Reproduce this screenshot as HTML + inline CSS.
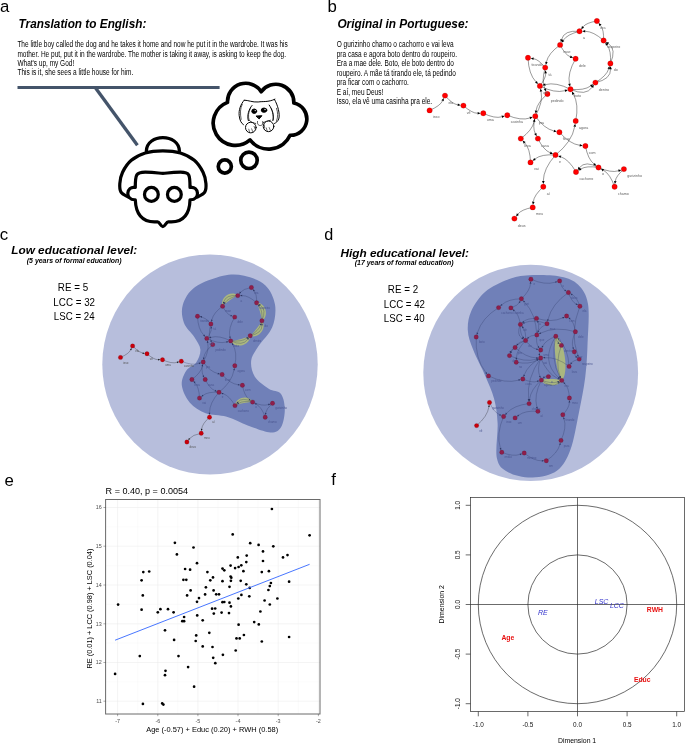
<!DOCTYPE html>
<html><head><meta charset="utf-8"><title>Figure</title>
<style>html,body{margin:0;padding:0;background:#fff}svg{display:block}text{font-family:"Liberation Sans",sans-serif}</style></head><body>
<svg width="685" height="744" viewBox="0 0 685 744">
<rect width="685" height="744" fill="#fff"/>
<ellipse cx="210" cy="364.5" rx="107.7" ry="110" fill="#B7BEDC"/>
<ellipse cx="530.7" cy="372.9" rx="107.4" ry="108.1" fill="#B7BEDC"/>
<text x="-0.1" y="12" font-size="16.8" fill="#000" >a</text>
<text x="18.6" y="27.8" font-size="12.2" fill="#000" font-weight="bold" font-style="italic" textLength="127.8" lengthAdjust="spacingAndGlyphs" >Translation to English:</text>
<text x="17.4" y="47.2" font-size="8.3" fill="#000" textLength="270.4" lengthAdjust="spacingAndGlyphs" >The little boy called the dog and he takes it home and now he put it in the wardrobe. It was his</text>
<text x="17.4" y="56.5" font-size="8.3" fill="#000" textLength="268.6" lengthAdjust="spacingAndGlyphs" >mother. He put, put it in the wardrobe. The mother is taking it away, is asking to keep the dog.</text>
<text x="17.4" y="66.1" font-size="8.3" fill="#000" textLength="56.8" lengthAdjust="spacingAndGlyphs" >What's up, my God!</text>
<text x="17.4" y="75.4" font-size="8.3" fill="#000" textLength="115.9" lengthAdjust="spacingAndGlyphs" >This is it, she sees a little house for him.</text>
<path d="M17.5,87.5H219.6" stroke="#44546A" stroke-width="3" fill="none"/>
<path d="M95.4,87.8L137.4,145.2" stroke="#44546A" stroke-width="3.3" fill="none"/>
<g transform="translate(110,130) scale(0.15328)" fill="none" stroke="#000" stroke-width="21" stroke-linecap="round" stroke-linejoin="round">
<path d="M237,138C240,20 450,20 453,138"/>
<path d="M118.0,437.0C110.3,431.7 81.0,419.5 72.0,405.0C63.0,390.5 62.3,371.5 64.0,350.0C65.7,328.5 69.5,301.3 82.0,276.0C94.5,250.7 114.3,219.0 139.0,198.0C163.7,177.0 195.7,160.3 230.0,150.0C264.3,139.7 306.8,136.0 345.0,136.0C383.2,136.0 424.8,139.7 459.0,150.0C493.2,160.3 525.3,177.0 550.0,198.0C574.7,219.0 594.3,250.7 607.0,276.0C619.7,301.3 624.2,328.5 626.0,350.0C627.8,371.5 627.0,390.5 618.0,405.0C609.0,419.5 579.7,431.7 572.0,437.0"/>
<path d="M165,375C165,290 170,275 230,275C300,275 320,283 345,283C370,283 390,275 460,275C520,275 522,290 522,375C582,362 592,458 522,455C520,540 490,598 400,600L380,600C366,600 358,630 345,630C332,630 324,600 310,600L290,600C200,598 168,540 165,455C95,458 105,362 165,375Z"/>
<circle cx="270" cy="420" r="45"/><circle cx="420" cy="420" r="45"/>
</g>
<g transform="translate(205,75) scale(0.16787)" fill="none" stroke="#000" stroke-width="22" stroke-linecap="round" stroke-linejoin="round">
<path d="M134,163A109,109 0 0 1 335,100A107,107 0 0 1 529,167A97,97 0 0 1 507,359A141,141 0 0 1 268,387A132.5,132.5 0 1 1 134,163Z" fill="#fff"/>
<circle cx="262" cy="508" r="49"/><circle cx="118" cy="545" r="39"/>
</g>
<g transform="translate(232,92) scale(0.08175)" fill="none" stroke="#000" stroke-width="12" stroke-linecap="round" stroke-linejoin="round">
<path d="M150,100C200,100 250,128 320,122C380,112 440,128 525,88"/>
<path d="M150,100C105,150 80,220 88,290C95,350 115,385 140,400"/>
<path d="M125,150C100,200 98,260 112,335" stroke-width="8"/>
<path d="M245,165C205,210 180,290 200,350"/>
<path d="M225,200C200,250 195,300 210,345" stroke-width="7"/>
<path d="M520,92C560,160 590,270 572,330C560,360 540,375 520,385"/>
<path d="M455,160C495,215 515,290 500,350"/>
<path d="M545,200C562,250 564,300 545,355" stroke-width="8"/>
<path d="M480,200C505,250 512,300 505,340" stroke-width="7"/>
<ellipse cx="272" cy="235" rx="30" ry="27" fill="#000"/><ellipse cx="392" cy="222" rx="34" ry="26" fill="#000"/>
<circle cx="284" cy="227" r="8" fill="#fff" stroke="none"/><circle cx="404" cy="214" r="8" fill="#fff" stroke="none"/>
<path d="M298,294L366,290L335,326Z" fill="#000"/>
<path d="M312,360C305,400 330,412 350,410C372,408 382,390 376,360" stroke-width="8"/>
<path d="M215,350C235,370 260,380 290,385M380,375C410,365 440,350 470,345" stroke-width="9"/>
<circle cx="230" cy="435" r="65" fill="#fff"/><circle cx="447" cy="420" r="65" fill="#fff"/>
<path d="M205,455L215,492M240,450L255,488M270,420L285,458M420,440L430,478M455,435L470,470M395,400L400,442" stroke-width="7"/>
</g>
<text x="327.4" y="11.9" font-size="16.8" fill="#000" >b</text>
<text x="337.4" y="27.8" font-size="12.2" fill="#000" font-weight="bold" font-style="italic" textLength="131.1" lengthAdjust="spacingAndGlyphs" >Original in Portuguese:</text>
<text x="336.7" y="47.2" font-size="8.3" fill="#000" textLength="116.9" lengthAdjust="spacingAndGlyphs" >O gurizinho chamo o cachorro e vai leva</text>
<text x="336.7" y="56.6" font-size="8.3" fill="#000" textLength="120.3" lengthAdjust="spacingAndGlyphs" >pra casa e agora boto dentro do roupeiro.</text>
<text x="336.7" y="66.1" font-size="8.3" fill="#000" textLength="117.3" lengthAdjust="spacingAndGlyphs" >Era a mae dele. Boto, ele boto dentro do</text>
<text x="336.7" y="75.6" font-size="8.3" fill="#000" textLength="119.1" lengthAdjust="spacingAndGlyphs" >roupeiro. A mãe tá tirando ele, tá pedindo</text>
<text x="336.7" y="85.1" font-size="8.3" fill="#000" textLength="72.2" lengthAdjust="spacingAndGlyphs" >pra ficar com o cachorro.</text>
<text x="336.7" y="94.6" font-size="8.3" fill="#000" textLength="46.6" lengthAdjust="spacingAndGlyphs" >E aí, meu Deus!</text>
<text x="336.7" y="104" font-size="8.3" fill="#000" textLength="95.5" lengthAdjust="spacingAndGlyphs" >Isso, ela vê uma casinha pra ele.</text>
<g><path d="M598.5,167.5Q610.9,173.1 618.5,170.8" fill="none" stroke="#000" stroke-width="0.4"/><path d="M621.3,169.9L618.8,172.0L618.1,169.5Z" fill="#000"/><path d="M623.9,169.1Q615.9,176.2 615.3,181.1" fill="none" stroke="#000" stroke-width="0.4"/><path d="M614.9,184.1L614.0,181.0L616.6,181.3Z" fill="#000"/><path d="M614.6,186.8Q610.2,174.1 603.5,170.3" fill="none" stroke="#000" stroke-width="0.4"/><path d="M600.9,168.8L604.1,169.2L602.8,171.4Z" fill="#000"/><path d="M598.5,167.5Q586.4,165.5 580.8,169.0" fill="none" stroke="#000" stroke-width="0.4"/><path d="M578.3,170.6L580.1,167.9L581.5,170.1Z" fill="#000"/><path d="M576.0,172.0Q569.0,159.6 560.9,156.8" fill="none" stroke="#000" stroke-width="0.4"/><path d="M558.1,155.9L561.3,155.6L560.5,158.1Z" fill="#000"/><path d="M555.5,155.0Q541.6,153.9 535.0,158.9" fill="none" stroke="#000" stroke-width="0.4"/><path d="M532.6,160.8L534.2,157.9L535.8,160.0Z" fill="#000"/><path d="M530.5,162.4Q530.2,148.7 524.7,142.8" fill="none" stroke="#000" stroke-width="0.4"/><path d="M522.6,140.6L525.6,141.9L523.7,143.7Z" fill="#000"/><path d="M520.8,138.6Q532.3,130.2 534.1,121.8" fill="none" stroke="#000" stroke-width="0.4"/><path d="M534.7,118.8L535.4,122.0L532.8,121.5Z" fill="#000"/><path d="M535.3,116.2Q532.3,127.9 535.3,133.5" fill="none" stroke="#000" stroke-width="0.4"/><path d="M536.7,136.2L534.1,134.1L536.4,132.9Z" fill="#000"/><path d="M537.9,138.6Q543.6,150.1 550.2,152.8" fill="none" stroke="#000" stroke-width="0.4"/><path d="M553.0,154.0L549.7,154.1L550.7,151.6Z" fill="#000"/><path d="M555.5,155.0Q572.1,141.8 574.7,126.6" fill="none" stroke="#000" stroke-width="0.4"/><path d="M575.2,123.7L576.0,126.8L573.4,126.4Z" fill="#000"/><path d="M575.7,121.0Q579.1,104.2 573.4,94.2" fill="none" stroke="#000" stroke-width="0.4"/><path d="M571.9,91.6L574.5,93.6L572.2,94.9Z" fill="#000"/><path d="M570.5,89.3Q584.2,90.7 590.8,85.9" fill="none" stroke="#000" stroke-width="0.4"/><path d="M593.2,84.2L591.5,87.0L590.0,84.9Z" fill="#000"/><path d="M595.4,82.6Q606.5,75.9 608.7,68.9" fill="none" stroke="#000" stroke-width="0.4"/><path d="M609.6,66.1L609.9,69.3L607.5,68.6Z" fill="#000"/><path d="M610.4,63.5Q611.4,50.7 607.1,45.0" fill="none" stroke="#000" stroke-width="0.4"/><path d="M605.2,42.6L608.1,44.2L606.0,45.8Z" fill="#000"/><path d="M603.6,40.5Q604.0,29.5 600.5,25.4" fill="none" stroke="#000" stroke-width="0.4"/><path d="M598.6,23.1L601.5,24.5L599.5,26.2Z" fill="#000"/><path d="M596.9,21.0Q586.2,22.8 583.1,26.8" fill="none" stroke="#000" stroke-width="0.4"/><path d="M581.2,29.2L582.0,26.0L584.1,27.7Z" fill="#000"/><path d="M579.5,31.3Q567.2,34.4 563.3,40.2" fill="none" stroke="#000" stroke-width="0.4"/><path d="M561.6,42.7L562.2,39.5L564.4,40.9Z" fill="#000"/><path d="M560.1,44.9Q565.2,54.8 570.3,56.8" fill="none" stroke="#000" stroke-width="0.4"/><path d="M573.1,57.8L569.8,58.0L570.7,55.5Z" fill="#000"/><path d="M575.6,58.8Q567.3,73.1 569.4,83.7" fill="none" stroke="#000" stroke-width="0.4"/><path d="M570.0,86.7L568.1,84.0L570.7,83.5Z" fill="#000"/><path d="M570.5,89.3Q555.8,81.8 545.4,84.6" fill="none" stroke="#000" stroke-width="0.4"/><path d="M542.5,85.3L545.1,83.3L545.7,85.8Z" fill="#000"/><path d="M539.9,86.0Q554.6,93.5 565.0,90.7" fill="none" stroke="#000" stroke-width="0.4"/><path d="M567.9,90.0L565.3,92.0L564.7,89.5Z" fill="#000"/><path d="M570.5,89.3Q585.8,96.4 592.1,87.3" fill="none" stroke="#000" stroke-width="0.4"/><path d="M593.9,84.8L593.2,88.0L591.1,86.5Z" fill="#000"/><path d="M595.4,82.6Q610.9,79.3 610.6,69.2" fill="none" stroke="#000" stroke-width="0.4"/><path d="M610.5,66.2L611.9,69.2L609.3,69.2Z" fill="#000"/><path d="M610.4,63.5Q616.7,49.1 608.4,43.6" fill="none" stroke="#000" stroke-width="0.4"/><path d="M605.9,42.0L609.1,42.6L607.6,44.7Z" fill="#000"/><path d="M603.6,40.5Q593.3,31.3 585.2,31.3" fill="none" stroke="#000" stroke-width="0.4"/><path d="M582.2,31.3L585.2,30.0L585.2,32.6Z" fill="#000"/><path d="M579.5,31.3Q564.1,30.0 561.6,39.4" fill="none" stroke="#000" stroke-width="0.4"/><path d="M560.8,42.3L560.3,39.1L562.8,39.7Z" fill="#000"/><path d="M560.1,44.9Q548.3,53.4 546.4,62.0" fill="none" stroke="#000" stroke-width="0.4"/><path d="M545.8,65.0L545.2,61.8L547.7,62.3Z" fill="#000"/><path d="M545.2,67.6Q538.5,59.4 533.6,58.7" fill="none" stroke="#000" stroke-width="0.4"/><path d="M530.7,58.2L533.8,57.4L533.4,60.0Z" fill="#000"/><path d="M528.0,57.8Q528.6,74.2 536.0,81.9" fill="none" stroke="#000" stroke-width="0.4"/><path d="M538.0,84.0L535.0,82.8L536.9,81.0Z" fill="#000"/><path d="M539.9,86.0Q546.0,77.8 545.7,73.3" fill="none" stroke="#000" stroke-width="0.4"/><path d="M545.4,70.3L547.0,73.2L544.4,73.4Z" fill="#000"/><path d="M545.2,67.6Q541.3,81.2 544.9,88.9" fill="none" stroke="#000" stroke-width="0.4"/><path d="M546.2,91.6L543.8,89.4L546.1,88.3Z" fill="#000"/><path d="M547.4,94.0Q537.1,102.8 536.1,110.6" fill="none" stroke="#000" stroke-width="0.4"/><path d="M535.7,113.5L534.8,110.4L537.4,110.7Z" fill="#000"/><path d="M535.3,116.2Q544.3,128.8 553.8,130.9" fill="none" stroke="#000" stroke-width="0.4"/><path d="M556.8,131.6L553.6,132.2L554.1,129.7Z" fill="#000"/><path d="M559.4,132.2Q569.8,144.0 579.7,145.3" fill="none" stroke="#000" stroke-width="0.4"/><path d="M582.7,145.7L579.6,146.6L579.9,144.0Z" fill="#000"/><path d="M585.4,146.0Q587.9,159.2 594.0,164.0" fill="none" stroke="#000" stroke-width="0.4"/><path d="M596.4,165.8L593.2,165.0L594.8,163.0Z" fill="#000"/><path d="M598.5,167.5Q585.4,160.3 579.6,167.5" fill="none" stroke="#000" stroke-width="0.4"/><path d="M577.7,169.9L578.5,166.7L580.6,168.4Z" fill="#000"/><path d="M555.5,155.0Q543.4,168.6 543.3,181.1" fill="none" stroke="#000" stroke-width="0.4"/><path d="M543.3,184.1L542.0,181.1L544.6,181.1Z" fill="#000"/><path d="M543.3,186.8Q534.1,195.1 533.3,201.7" fill="none" stroke="#000" stroke-width="0.4"/><path d="M533.0,204.7L532.0,201.6L534.6,201.9Z" fill="#000"/><path d="M532.7,207.4Q521.4,209.5 517.9,214.1" fill="none" stroke="#000" stroke-width="0.4"/><path d="M516.1,216.5L516.9,213.3L518.9,214.9Z" fill="#000"/><path d="M429.6,110.4Q440.1,105.9 442.6,100.8" fill="none" stroke="#000" stroke-width="0.4"/><path d="M443.8,98.0L443.7,101.3L441.4,100.2Z" fill="#000"/><path d="M445.0,95.6Q452.3,104.1 457.8,104.8" fill="none" stroke="#000" stroke-width="0.4"/><path d="M460.7,105.2L457.6,106.1L457.9,103.5Z" fill="#000"/><path d="M463.4,105.6Q471.9,113.2 477.6,113.3" fill="none" stroke="#000" stroke-width="0.4"/><path d="M480.6,113.3L477.6,114.6L477.6,112.0Z" fill="#000"/><path d="M483.3,113.3Q494.9,118.8 501.8,116.8" fill="none" stroke="#000" stroke-width="0.4"/><path d="M504.7,116.0L502.2,118.0L501.5,115.6Z" fill="#000"/><path d="M507.3,115.2Q521.1,121.0 529.9,118.0" fill="none" stroke="#000" stroke-width="0.4"/><path d="M532.7,117.1L530.3,119.3L529.5,116.8Z" fill="#000"/><path d="M535.3,116.2Q543.3,102.0 541.1,91.6" fill="none" stroke="#000" stroke-width="0.4"/><path d="M540.5,88.6L542.4,91.3L539.8,91.8Z" fill="#000"/><circle cx="596.9" cy="21.0" r="2.7" fill="#F00" stroke="#400" stroke-width="0.15"/><circle cx="579.5" cy="31.3" r="2.7" fill="#F00" stroke="#400" stroke-width="0.15"/><circle cx="603.6" cy="40.5" r="2.7" fill="#F00" stroke="#400" stroke-width="0.15"/><circle cx="560.1" cy="44.9" r="2.7" fill="#F00" stroke="#400" stroke-width="0.15"/><circle cx="575.6" cy="58.8" r="2.7" fill="#F00" stroke="#400" stroke-width="0.15"/><circle cx="610.4" cy="63.5" r="2.7" fill="#F00" stroke="#400" stroke-width="0.15"/><circle cx="528" cy="57.8" r="2.7" fill="#F00" stroke="#400" stroke-width="0.15"/><circle cx="545.2" cy="67.6" r="2.7" fill="#F00" stroke="#400" stroke-width="0.15"/><circle cx="595.4" cy="82.6" r="2.7" fill="#F00" stroke="#400" stroke-width="0.15"/><circle cx="539.9" cy="86" r="2.7" fill="#F00" stroke="#400" stroke-width="0.15"/><circle cx="570.5" cy="89.3" r="2.7" fill="#F00" stroke="#400" stroke-width="0.15"/><circle cx="547.4" cy="94" r="2.7" fill="#F00" stroke="#400" stroke-width="0.15"/><circle cx="445" cy="95.6" r="2.7" fill="#F00" stroke="#400" stroke-width="0.15"/><circle cx="429.6" cy="110.4" r="2.7" fill="#F00" stroke="#400" stroke-width="0.15"/><circle cx="463.4" cy="105.6" r="2.7" fill="#F00" stroke="#400" stroke-width="0.15"/><circle cx="483.3" cy="113.3" r="2.7" fill="#F00" stroke="#400" stroke-width="0.15"/><circle cx="507.3" cy="115.2" r="2.7" fill="#F00" stroke="#400" stroke-width="0.15"/><circle cx="535.3" cy="116.2" r="2.7" fill="#F00" stroke="#400" stroke-width="0.15"/><circle cx="575.7" cy="121" r="2.7" fill="#F00" stroke="#400" stroke-width="0.15"/><circle cx="559.4" cy="132.2" r="2.7" fill="#F00" stroke="#400" stroke-width="0.15"/><circle cx="520.8" cy="138.6" r="2.7" fill="#F00" stroke="#400" stroke-width="0.15"/><circle cx="537.9" cy="138.6" r="2.7" fill="#F00" stroke="#400" stroke-width="0.15"/><circle cx="585.4" cy="146" r="2.7" fill="#F00" stroke="#400" stroke-width="0.15"/><circle cx="555.5" cy="155" r="2.7" fill="#F00" stroke="#400" stroke-width="0.15"/><circle cx="530.5" cy="162.4" r="2.7" fill="#F00" stroke="#400" stroke-width="0.15"/><circle cx="598.5" cy="167.5" r="2.7" fill="#F00" stroke="#400" stroke-width="0.15"/><circle cx="576" cy="172" r="2.7" fill="#F00" stroke="#400" stroke-width="0.15"/><circle cx="623.9" cy="169.1" r="2.7" fill="#F00" stroke="#400" stroke-width="0.15"/><circle cx="614.6" cy="186.8" r="2.7" fill="#F00" stroke="#400" stroke-width="0.15"/><circle cx="543.3" cy="186.8" r="2.7" fill="#F00" stroke="#400" stroke-width="0.15"/><circle cx="532.7" cy="207.4" r="2.7" fill="#F00" stroke="#400" stroke-width="0.15"/><circle cx="514.4" cy="218.6" r="2.7" fill="#F00" stroke="#400" stroke-width="0.15"/><text x="600.3" y="28.9" font-size="3.6" fill="#606060">era</text><text x="582.9" y="39.2" font-size="3.6" fill="#606060">a</text><text x="607.0" y="48.4" font-size="3.6" fill="#606060">roupeiro</text><text x="563.5" y="52.8" font-size="3.6" fill="#606060">mae</text><text x="579.0" y="66.7" font-size="3.6" fill="#606060">dele</text><text x="613.8" y="71.4" font-size="3.6" fill="#606060">do</text><text x="531.4" y="65.7" font-size="3.6" fill="#606060">tirando</text><text x="548.6" y="75.5" font-size="3.6" fill="#606060">tá</text><text x="598.8" y="90.5" font-size="3.6" fill="#606060">dentro</text><text x="543.3" y="93.9" font-size="3.6" fill="#606060">ele</text><text x="573.9" y="97.2" font-size="3.6" fill="#606060">boto</text><text x="550.8" y="101.9" font-size="3.6" fill="#606060">pedindo</text><text x="448.4" y="103.5" font-size="3.6" fill="#606060">ela</text><text x="433.0" y="118.3" font-size="3.6" fill="#606060">isso</text><text x="466.8" y="113.5" font-size="3.6" fill="#606060">vê</text><text x="486.7" y="121.2" font-size="3.6" fill="#606060">uma</text><text x="510.7" y="123.1" font-size="3.6" fill="#606060">casinha</text><text x="538.7" y="124.1" font-size="3.6" fill="#606060">pra</text><text x="579.1" y="128.9" font-size="3.6" fill="#606060">agora</text><text x="562.8" y="140.1" font-size="3.6" fill="#606060">ficar</text><text x="524.2" y="146.5" font-size="3.6" fill="#606060">leva</text><text x="541.3" y="146.5" font-size="3.6" fill="#606060">casa</text><text x="588.8" y="153.9" font-size="3.6" fill="#606060">com</text><text x="558.9" y="162.9" font-size="3.6" fill="#606060">e</text><text x="533.9" y="170.3" font-size="3.6" fill="#606060">vai</text><text x="601.9" y="175.4" font-size="3.6" fill="#606060">o</text><text x="579.4" y="179.9" font-size="3.6" fill="#606060">cachorro</text><text x="627.3" y="177.0" font-size="3.6" fill="#606060">gurizinho</text><text x="618.0" y="194.7" font-size="3.6" fill="#606060">chamo</text><text x="546.7" y="194.7" font-size="3.6" fill="#606060">aí</text><text x="536.1" y="215.3" font-size="3.6" fill="#606060">meu</text><text x="517.8" y="226.5" font-size="3.6" fill="#606060">deus</text></g>
<text x="-0.3" y="240.2" font-size="16.8" fill="#000" >c</text>
<text x="11.2" y="254.3" font-size="11.2" fill="#000" font-weight="bold" font-style="italic" textLength="126.1" lengthAdjust="spacingAndGlyphs" >Low educational level:</text>
<text x="26.8" y="262.7" font-size="6.5" fill="#000" font-weight="bold" font-style="italic" textLength="94.8" lengthAdjust="spacingAndGlyphs" >(5 years of formal education)</text>
<text x="73" y="290.8" font-size="11.6" fill="#000" text-anchor="middle" textLength="30.3" lengthAdjust="spacingAndGlyphs" >RE = 5</text>
<text x="74.2" y="305.7" font-size="11.6" fill="#000" text-anchor="middle" textLength="41.7" lengthAdjust="spacingAndGlyphs" >LCC = 32</text>
<text x="74.2" y="320.1" font-size="11.6" fill="#000" text-anchor="middle" textLength="40.7" lengthAdjust="spacingAndGlyphs" >LSC = 24</text>
<path d="M223.1,275.8C231.3,274.0 237.2,274.3 244.2,275.8C251.2,277.4 260.1,280.5 265.2,285.3C270.3,290.1 273.8,297.6 275.0,304.6C276.2,311.6 275.0,320.3 272.2,327.3C269.4,334.3 261.7,341.1 258.2,346.6C254.7,352.2 251.8,355.7 251.2,360.6C250.6,365.6 251.8,371.7 254.7,376.4C257.6,381.1 264.3,385.7 268.7,388.7C273.1,391.6 278.3,390.4 281.0,393.9C283.6,397.4 284.8,404.1 284.8,409.7C284.8,415.2 283.4,423.4 281.0,427.2C278.6,431.0 276.0,432.7 270.4,432.5C264.9,432.2 255.0,428.1 247.7,425.4C240.4,422.8 233.7,418.7 226.7,416.7C219.6,414.6 211.8,415.5 205.6,413.2C199.5,410.8 193.8,407.3 189.9,402.7C185.9,398.0 182.4,390.5 181.8,385.2C181.2,379.8 184.0,374.2 186.4,370.4C188.8,366.6 193.8,365.9 196.2,362.4C198.5,358.9 200.7,353.7 200.4,349.4C200.0,345.2 196.8,341.2 194.1,336.8C191.3,332.4 185.8,328.2 183.9,322.8C182.0,317.4 181.0,310.5 182.9,304.6C184.7,298.6 188.4,291.8 195.1,287.0C201.8,282.3 215.0,277.7 223.1,275.8Z" fill="#7080B8"/>
<path d="M237.8,295.6C235.4,296.1 223.9,304.1 222.6,306.2C219.5,297.8 231.0,289.8 237.8,295.6Z" fill="#AAB77F"/>
<path d="M261.9,320.8C262.2,318.4 258.2,304.7 256.6,302.8C265.6,302.5 269.7,316.2 261.9,320.8Z" fill="#AAB77F"/>
<path d="M250.2,335.7C252.4,334.5 261.3,323.2 261.9,320.8C267.4,328.0 258.6,339.4 250.2,335.7Z" fill="#AAB77F"/>
<path d="M230.7,340.9C233.3,341.3 248.1,337.4 250.2,335.7C250.3,345.4 235.5,349.4 230.7,340.9Z" fill="#AAB77F"/>
<path d="M252.6,402.1C250.3,401.6 236.9,404.2 235.0,405.6C235.5,397.0 248.9,394.3 252.6,402.1Z" fill="#AAB77F"/>
<g><path d="M252.6,402.1Q262.3,406.5 268.3,404.6" fill="none" stroke="#2A3360" stroke-width="0.3"/><path d="M270.4,404.0L268.6,405.5L268.0,403.8Z" fill="#2A3360"/><path d="M272.5,403.3Q266.2,408.9 265.7,412.8" fill="none" stroke="#2A3360" stroke-width="0.3"/><path d="M265.5,415.0L264.8,412.7L266.6,412.9Z" fill="#2A3360"/><path d="M265.2,417.2Q261.8,407.3 256.4,404.3" fill="none" stroke="#2A3360" stroke-width="0.3"/><path d="M254.5,403.2L256.9,403.5L256.0,405.0Z" fill="#2A3360"/><path d="M252.6,402.1Q243.1,400.5 238.7,403.3" fill="none" stroke="#2A3360" stroke-width="0.3"/><path d="M236.9,404.4L238.3,402.5L239.2,404.0Z" fill="#2A3360"/><path d="M235.0,405.6Q229.5,395.9 223.2,393.7" fill="none" stroke="#2A3360" stroke-width="0.3"/><path d="M221.1,393.0L223.5,392.9L222.9,394.6Z" fill="#2A3360"/><path d="M219.0,392.3Q208.1,391.5 203.0,395.4" fill="none" stroke="#2A3360" stroke-width="0.3"/><path d="M201.2,396.8L202.5,394.7L203.5,396.1Z" fill="#2A3360"/><path d="M199.5,398.1Q199.2,387.4 194.9,382.7" fill="none" stroke="#2A3360" stroke-width="0.3"/><path d="M193.4,381.1L195.6,382.1L194.2,383.3Z" fill="#2A3360"/><path d="M191.9,379.5Q200.9,372.9 202.3,366.3" fill="none" stroke="#2A3360" stroke-width="0.3"/><path d="M202.7,364.2L203.2,366.5L201.4,366.1Z" fill="#2A3360"/><path d="M203.2,362.0Q200.9,371.1 203.2,375.6" fill="none" stroke="#2A3360" stroke-width="0.3"/><path d="M204.2,377.5L202.4,376.0L204.0,375.2Z" fill="#2A3360"/><path d="M205.2,379.5Q209.7,388.5 214.9,390.6" fill="none" stroke="#2A3360" stroke-width="0.3"/><path d="M217.0,391.5L214.6,391.5L215.3,389.8Z" fill="#2A3360"/><path d="M219.0,392.3Q232.0,382.0 234.0,370.0" fill="none" stroke="#2A3360" stroke-width="0.3"/><path d="M234.4,367.9L234.9,370.2L233.2,369.9Z" fill="#2A3360"/><path d="M234.8,365.7Q237.5,352.5 232.9,344.7" fill="none" stroke="#2A3360" stroke-width="0.3"/><path d="M231.8,342.8L233.7,344.3L232.1,345.2Z" fill="#2A3360"/><path d="M230.7,340.9Q241.4,342.0 246.6,338.3" fill="none" stroke="#2A3360" stroke-width="0.3"/><path d="M248.4,337.0L247.2,339.0L246.1,337.5Z" fill="#2A3360"/><path d="M250.2,335.7Q258.9,330.5 260.6,325.0" fill="none" stroke="#2A3360" stroke-width="0.3"/><path d="M261.2,322.9L261.4,325.3L259.7,324.7Z" fill="#2A3360"/><path d="M261.9,320.8Q262.7,310.8 259.3,306.3" fill="none" stroke="#2A3360" stroke-width="0.3"/><path d="M257.9,304.6L260.0,305.8L258.5,306.8Z" fill="#2A3360"/><path d="M256.6,302.8Q256.9,294.2 254.2,290.9" fill="none" stroke="#2A3360" stroke-width="0.3"/><path d="M252.8,289.2L254.9,290.3L253.5,291.5Z" fill="#2A3360"/><path d="M251.4,287.5Q243.1,289.0 240.5,292.2" fill="none" stroke="#2A3360" stroke-width="0.3"/><path d="M239.2,293.9L239.8,291.6L241.2,292.7Z" fill="#2A3360"/><path d="M237.8,295.6Q228.2,298.0 225.1,302.6" fill="none" stroke="#2A3360" stroke-width="0.3"/><path d="M223.8,304.4L224.3,302.1L225.8,303.1Z" fill="#2A3360"/><path d="M222.6,306.2Q226.6,313.9 230.6,315.5" fill="none" stroke="#2A3360" stroke-width="0.3"/><path d="M232.6,316.3L230.3,316.3L230.9,314.7Z" fill="#2A3360"/><path d="M234.7,317.1Q228.2,328.2 229.8,336.6" fill="none" stroke="#2A3360" stroke-width="0.3"/><path d="M230.3,338.7L229.0,336.8L230.7,336.4Z" fill="#2A3360"/><path d="M230.7,340.9Q219.2,335.1 211.1,337.3" fill="none" stroke="#2A3360" stroke-width="0.3"/><path d="M208.9,337.8L210.8,336.4L211.3,338.1Z" fill="#2A3360"/><path d="M206.8,338.4Q218.3,344.2 226.4,342.0" fill="none" stroke="#2A3360" stroke-width="0.3"/><path d="M228.6,341.5L226.7,342.9L226.2,341.2Z" fill="#2A3360"/><path d="M230.7,340.9Q242.6,346.5 247.7,339.3" fill="none" stroke="#2A3360" stroke-width="0.3"/><path d="M248.9,337.5L248.4,339.8L246.9,338.8Z" fill="#2A3360"/><path d="M250.2,335.7Q262.3,333.2 262.0,325.2" fill="none" stroke="#2A3360" stroke-width="0.3"/><path d="M262.0,323.0L262.9,325.2L261.1,325.2Z" fill="#2A3360"/><path d="M261.9,320.8Q266.8,309.6 260.3,305.2" fill="none" stroke="#2A3360" stroke-width="0.3"/><path d="M258.4,304.0L260.8,304.5L259.8,306.0Z" fill="#2A3360"/><path d="M256.6,302.8Q248.6,295.6 242.2,295.6" fill="none" stroke="#2A3360" stroke-width="0.3"/><path d="M240.0,295.6L242.2,294.7L242.2,296.5Z" fill="#2A3360"/><path d="M237.8,295.6Q225.7,294.5 223.7,302.0" fill="none" stroke="#2A3360" stroke-width="0.3"/><path d="M223.2,304.1L222.9,301.7L224.6,302.2Z" fill="#2A3360"/><path d="M222.6,306.2Q213.4,312.9 211.9,319.7" fill="none" stroke="#2A3360" stroke-width="0.3"/><path d="M211.4,321.9L211.0,319.5L212.7,319.9Z" fill="#2A3360"/><path d="M210.9,324.0Q205.7,317.6 201.8,317.0" fill="none" stroke="#2A3360" stroke-width="0.3"/><path d="M199.7,316.6L202.0,316.1L201.7,317.9Z" fill="#2A3360"/><path d="M197.5,316.3Q198.0,329.1 203.8,335.2" fill="none" stroke="#2A3360" stroke-width="0.3"/><path d="M205.3,336.8L203.1,335.8L204.4,334.6Z" fill="#2A3360"/><path d="M206.8,338.4Q211.6,332.0 211.3,328.4" fill="none" stroke="#2A3360" stroke-width="0.3"/><path d="M211.1,326.2L212.2,328.3L210.4,328.5Z" fill="#2A3360"/><path d="M210.9,324.0Q207.9,334.6 210.8,340.6" fill="none" stroke="#2A3360" stroke-width="0.3"/><path d="M211.7,342.6L210.0,341.0L211.6,340.2Z" fill="#2A3360"/><path d="M212.7,344.6Q204.6,351.5 203.8,357.6" fill="none" stroke="#2A3360" stroke-width="0.3"/><path d="M203.5,359.8L202.9,357.5L204.7,357.8Z" fill="#2A3360"/><path d="M203.2,362.0Q210.3,371.8 217.8,373.5" fill="none" stroke="#2A3360" stroke-width="0.3"/><path d="M220.0,374.0L217.6,374.4L218.0,372.7Z" fill="#2A3360"/><path d="M222.1,374.5Q230.2,383.8 238.0,384.7" fill="none" stroke="#2A3360" stroke-width="0.3"/><path d="M240.2,385.0L237.9,385.6L238.1,383.9Z" fill="#2A3360"/><path d="M242.4,385.3Q244.3,395.6 249.1,399.4" fill="none" stroke="#2A3360" stroke-width="0.3"/><path d="M250.9,400.7L248.6,400.1L249.7,398.7Z" fill="#2A3360"/><path d="M252.6,402.1Q242.3,396.5 237.8,402.2" fill="none" stroke="#2A3360" stroke-width="0.3"/><path d="M236.4,403.9L237.1,401.6L238.5,402.7Z" fill="#2A3360"/><path d="M219.0,392.3Q209.5,402.9 209.5,412.8" fill="none" stroke="#2A3360" stroke-width="0.3"/><path d="M209.5,415.0L208.6,412.8L210.4,412.8Z" fill="#2A3360"/><path d="M209.5,417.2Q202.3,423.7 201.7,428.9" fill="none" stroke="#111" stroke-width="0.3"/><path d="M201.4,431.1L200.8,428.8L202.6,429.0Z" fill="#111"/><path d="M201.2,433.3Q192.4,434.9 189.6,438.5" fill="none" stroke="#111" stroke-width="0.3"/><path d="M188.3,440.3L188.9,438.0L190.3,439.1Z" fill="#111"/><path d="M120.5,357.4Q128.7,353.9 130.7,349.9" fill="none" stroke="#111" stroke-width="0.3"/><path d="M131.6,347.9L131.5,350.3L129.9,349.5Z" fill="#111"/><path d="M132.6,345.9Q138.3,352.5 142.6,353.1" fill="none" stroke="#111" stroke-width="0.3"/><path d="M144.8,353.4L142.5,354.0L142.8,352.2Z" fill="#111"/><path d="M147.0,353.7Q153.6,359.6 158.1,359.7" fill="none" stroke="#111" stroke-width="0.3"/><path d="M160.3,359.7L158.1,360.6L158.1,358.8Z" fill="#111"/><path d="M162.5,359.7Q171.6,364.0 177.1,362.4" fill="none" stroke="#111" stroke-width="0.3"/><path d="M179.2,361.8L177.3,363.3L176.8,361.6Z" fill="#111"/><path d="M181.3,361.2Q192.1,365.8 199.0,363.4" fill="none" stroke="#2A3360" stroke-width="0.3"/><path d="M201.1,362.7L199.3,364.3L198.7,362.6Z" fill="#2A3360"/><path d="M203.2,362.0Q209.5,350.9 207.7,342.7" fill="none" stroke="#2A3360" stroke-width="0.3"/><path d="M207.3,340.6L208.6,342.5L206.8,342.9Z" fill="#2A3360"/><circle cx="251.4" cy="287.5" r="2.2" fill="#8E1E4C" stroke="#400" stroke-width="0.15"/><circle cx="237.8" cy="295.6" r="2.2" fill="#8E1E4C" stroke="#400" stroke-width="0.15"/><circle cx="256.6" cy="302.8" r="2.2" fill="#8E1E4C" stroke="#400" stroke-width="0.15"/><circle cx="222.6" cy="306.2" r="2.2" fill="#8E1E4C" stroke="#400" stroke-width="0.15"/><circle cx="234.7" cy="317.1" r="2.2" fill="#8E1E4C" stroke="#400" stroke-width="0.15"/><circle cx="261.9" cy="320.8" r="2.2" fill="#8E1E4C" stroke="#400" stroke-width="0.15"/><circle cx="197.5" cy="316.3" r="2.2" fill="#8E1E4C" stroke="#400" stroke-width="0.15"/><circle cx="210.9" cy="324.0" r="2.2" fill="#8E1E4C" stroke="#400" stroke-width="0.15"/><circle cx="250.2" cy="335.7" r="2.2" fill="#8E1E4C" stroke="#400" stroke-width="0.15"/><circle cx="206.8" cy="338.4" r="2.2" fill="#8E1E4C" stroke="#400" stroke-width="0.15"/><circle cx="230.7" cy="340.9" r="2.2" fill="#8E1E4C" stroke="#400" stroke-width="0.15"/><circle cx="212.7" cy="344.6" r="2.2" fill="#8E1E4C" stroke="#400" stroke-width="0.15"/><circle cx="132.6" cy="345.9" r="2.2" fill="#C8000C" stroke="#400" stroke-width="0.15"/><circle cx="120.5" cy="357.4" r="2.2" fill="#C8000C" stroke="#400" stroke-width="0.15"/><circle cx="147.0" cy="353.7" r="2.2" fill="#C8000C" stroke="#400" stroke-width="0.15"/><circle cx="162.5" cy="359.7" r="2.2" fill="#C8000C" stroke="#400" stroke-width="0.15"/><circle cx="181.3" cy="361.2" r="2.2" fill="#C8000C" stroke="#400" stroke-width="0.15"/><circle cx="203.2" cy="362.0" r="2.2" fill="#8E1E4C" stroke="#400" stroke-width="0.15"/><circle cx="234.8" cy="365.7" r="2.2" fill="#8E1E4C" stroke="#400" stroke-width="0.15"/><circle cx="222.1" cy="374.5" r="2.2" fill="#8E1E4C" stroke="#400" stroke-width="0.15"/><circle cx="191.9" cy="379.5" r="2.2" fill="#8E1E4C" stroke="#400" stroke-width="0.15"/><circle cx="205.2" cy="379.5" r="2.2" fill="#8E1E4C" stroke="#400" stroke-width="0.15"/><circle cx="242.4" cy="385.3" r="2.2" fill="#8E1E4C" stroke="#400" stroke-width="0.15"/><circle cx="219.0" cy="392.3" r="2.2" fill="#8E1E4C" stroke="#400" stroke-width="0.15"/><circle cx="199.5" cy="398.1" r="2.2" fill="#8E1E4C" stroke="#400" stroke-width="0.15"/><circle cx="252.6" cy="402.1" r="2.2" fill="#8E1E4C" stroke="#400" stroke-width="0.15"/><circle cx="235.0" cy="405.6" r="2.2" fill="#8E1E4C" stroke="#400" stroke-width="0.15"/><circle cx="272.5" cy="403.3" r="2.2" fill="#8E1E4C" stroke="#400" stroke-width="0.15"/><circle cx="265.2" cy="417.2" r="2.2" fill="#8E1E4C" stroke="#400" stroke-width="0.15"/><circle cx="209.5" cy="417.2" r="2.2" fill="#C8000C" stroke="#400" stroke-width="0.15"/><circle cx="201.2" cy="433.3" r="2.2" fill="#C8000C" stroke="#400" stroke-width="0.15"/><circle cx="186.9" cy="442.0" r="2.2" fill="#C8000C" stroke="#400" stroke-width="0.15"/><text x="254.1" y="293.6" font-size="2.9" fill="#4a5590">era</text><text x="240.5" y="301.7" font-size="2.9" fill="#4a5590">a</text><text x="259.3" y="308.9" font-size="2.9" fill="#4a5590">roupeiro</text><text x="225.3" y="312.3" font-size="2.9" fill="#4a5590">mae</text><text x="237.4" y="323.2" font-size="2.9" fill="#4a5590">dele</text><text x="264.6" y="326.9" font-size="2.9" fill="#4a5590">do</text><text x="200.2" y="322.4" font-size="2.9" fill="#4a5590">tirando</text><text x="213.6" y="330.1" font-size="2.9" fill="#4a5590">tá</text><text x="252.9" y="341.8" font-size="2.9" fill="#4a5590">dentro</text><text x="209.5" y="344.5" font-size="2.9" fill="#4a5590">ele</text><text x="233.4" y="347.0" font-size="2.9" fill="#4a5590">boto</text><text x="215.4" y="350.7" font-size="2.9" fill="#4a5590">pedindo</text><text x="135.3" y="352.0" font-size="2.9" fill="#555">ela</text><text x="123.2" y="363.5" font-size="2.9" fill="#555">isso</text><text x="149.7" y="359.8" font-size="2.9" fill="#555">vê</text><text x="165.2" y="365.8" font-size="2.9" fill="#555">uma</text><text x="184.0" y="367.3" font-size="2.9" fill="#555">casinha</text><text x="205.9" y="368.1" font-size="2.9" fill="#4a5590">pra</text><text x="237.5" y="371.8" font-size="2.9" fill="#4a5590">agora</text><text x="224.8" y="380.6" font-size="2.9" fill="#4a5590">ficar</text><text x="194.6" y="385.6" font-size="2.9" fill="#4a5590">leva</text><text x="207.9" y="385.6" font-size="2.9" fill="#4a5590">casa</text><text x="245.1" y="391.4" font-size="2.9" fill="#4a5590">com</text><text x="221.7" y="398.4" font-size="2.9" fill="#4a5590">e</text><text x="202.2" y="404.2" font-size="2.9" fill="#4a5590">vai</text><text x="255.3" y="408.2" font-size="2.9" fill="#4a5590">o</text><text x="237.7" y="411.7" font-size="2.9" fill="#4a5590">cachorro</text><text x="275.2" y="409.4" font-size="2.9" fill="#4a5590">gurizinho</text><text x="267.9" y="423.3" font-size="2.9" fill="#4a5590">chamo</text><text x="212.2" y="423.3" font-size="2.9" fill="#555">aí</text><text x="203.9" y="439.4" font-size="2.9" fill="#555">meu</text><text x="189.6" y="448.1" font-size="2.9" fill="#555">deus</text></g>
<text x="324.2" y="240.3" font-size="16.2" fill="#000" >d</text>
<text x="340.4" y="256.5" font-size="11.2" fill="#000" font-weight="bold" font-style="italic" textLength="128.6" lengthAdjust="spacingAndGlyphs" >High educational level:</text>
<text x="354.8" y="264.7" font-size="6.5" fill="#000" font-weight="bold" font-style="italic" textLength="98.8" lengthAdjust="spacingAndGlyphs" >(17 years of formal education)</text>
<text x="403" y="293.3" font-size="11.6" fill="#000" text-anchor="middle" textLength="30.3" lengthAdjust="spacingAndGlyphs" >RE = 2</text>
<text x="404.4" y="307.7" font-size="11.6" fill="#000" text-anchor="middle" textLength="41.2" lengthAdjust="spacingAndGlyphs" >LCC = 42</text>
<text x="404.2" y="322" font-size="11.6" fill="#000" text-anchor="middle" textLength="40.7" lengthAdjust="spacingAndGlyphs" >LSC = 40</text>
<path d="M529.1,275.3C537.9,274.9 552.5,275.1 560.7,276.7C568.8,278.3 573.6,280.2 578.2,284.8C582.7,289.3 586.4,294.4 588.0,304.1C589.6,313.7 588.1,330.3 587.6,342.6C587.2,354.9 586.7,366.0 585.2,377.6C583.7,389.3 581.3,400.7 578.9,412.7C576.4,424.6 574.1,439.8 570.5,449.5C566.9,459.1 563.5,465.8 557.2,470.5C550.9,475.2 540.8,477.2 532.6,477.5C524.5,477.8 514.1,475.5 508.1,472.2C502.2,469.0 498.6,466.4 496.9,458.2C495.1,450.0 498.1,433.1 497.6,423.2C497.1,413.3 496.1,406.5 494.1,398.7C492.0,390.8 488.8,384.1 485.3,375.9C481.8,367.7 476.0,357.2 473.1,349.6C470.1,342.0 468.1,336.8 467.8,330.3C467.5,323.9 468.4,317.5 471.3,311.1C474.2,304.6 479.2,297.0 485.3,291.8C491.5,286.5 500.8,282.3 508.1,279.5C515.4,276.8 520.4,275.8 529.1,275.3Z" fill="#7080B8"/>
<path d="M555.8,336.3C552.4,342.1 556.9,375.7 561.7,380.4C569.2,374.0 564.7,340.5 555.8,336.3Z" fill="#AAB77F"/>
<path d="M541.4,380.1C543.7,386.9 559.2,387.1 561.7,380.4C559.3,378.7 543.9,378.5 541.4,380.1Z" fill="#AAB77F"/>
<g><path d="M521.4,298.8Q529.9,290.8 530.5,283.6" fill="none" stroke="#2A3360" stroke-width="0.3"/><path d="M530.7,281.4L531.4,283.7L529.6,283.5Z" fill="#2A3360"/><path d="M530.9,279.2Q544.9,285.5 555.4,282.2" fill="none" stroke="#2A3360" stroke-width="0.3"/><path d="M557.5,281.6L555.7,283.1L555.1,281.4Z" fill="#2A3360"/><path d="M559.6,280.9Q561.8,288.4 564.7,290.2" fill="none" stroke="#2A3360" stroke-width="0.3"/><path d="M566.5,291.3L564.2,290.9L565.1,289.4Z" fill="#2A3360"/><path d="M568.4,292.5Q571.5,301.5 576.1,304.1" fill="none" stroke="#2A3360" stroke-width="0.3"/><path d="M578.0,305.1L575.6,304.8L576.5,303.3Z" fill="#2A3360"/><path d="M579.9,306.2Q576.8,297.2 572.2,294.6" fill="none" stroke="#2A3360" stroke-width="0.3"/><path d="M570.3,293.6L572.7,293.9L571.8,295.4Z" fill="#2A3360"/><path d="M521.4,298.8Q508.3,298.9 501.9,304.7" fill="none" stroke="#2A3360" stroke-width="0.3"/><path d="M500.2,306.1L501.3,304.0L502.5,305.3Z" fill="#2A3360"/><path d="M510.9,307.9Q517.9,305.3 519.3,302.7" fill="none" stroke="#2A3360" stroke-width="0.3"/><path d="M520.4,300.7L520.1,303.1L518.5,302.2Z" fill="#2A3360"/><path d="M520.4,324.4Q518.8,314.3 514.3,310.7" fill="none" stroke="#2A3360" stroke-width="0.3"/><path d="M512.6,309.3L514.9,310.0L513.7,311.4Z" fill="#2A3360"/><path d="M498.6,307.6Q481.8,318.0 477.4,332.8" fill="none" stroke="#2A3360" stroke-width="0.3"/><path d="M476.8,334.9L476.6,332.5L478.3,333.0Z" fill="#2A3360"/><path d="M476.2,337.0Q475.0,358.8 485.8,372.4" fill="none" stroke="#2A3360" stroke-width="0.3"/><path d="M487.1,374.2L485.1,373.0L486.5,371.9Z" fill="#2A3360"/><path d="M488.5,375.9Q505.1,384.0 518.6,380.2" fill="none" stroke="#2A3360" stroke-width="0.3"/><path d="M520.7,379.6L518.8,381.1L518.3,379.3Z" fill="#2A3360"/><path d="M536.8,334.9Q536.0,313.9 524.5,302.0" fill="none" stroke="#2A3360" stroke-width="0.3"/><path d="M522.9,300.4L525.1,301.3L523.8,302.6Z" fill="#2A3360"/><path d="M568.4,292.5Q551.8,304.0 548.0,319.4" fill="none" stroke="#2A3360" stroke-width="0.3"/><path d="M547.5,321.6L547.2,319.2L548.9,319.6Z" fill="#2A3360"/><path d="M536.5,318.4Q552.0,322.9 562.6,317.9" fill="none" stroke="#2A3360" stroke-width="0.3"/><path d="M564.6,316.9L563.0,318.7L562.2,317.1Z" fill="#2A3360"/><path d="M575.4,331.7Q574.0,322.2 570.0,318.8" fill="none" stroke="#2A3360" stroke-width="0.3"/><path d="M568.3,317.4L570.6,318.1L569.4,319.5Z" fill="#2A3360"/><path d="M575.4,331.7Q555.5,326.0 540.8,333.0" fill="none" stroke="#2A3360" stroke-width="0.3"/><path d="M538.8,334.0L540.4,332.2L541.2,333.8Z" fill="#2A3360"/><path d="M575.4,331.7Q571.0,341.5 573.0,347.5" fill="none" stroke="#2A3360" stroke-width="0.3"/><path d="M573.6,349.6L572.1,347.8L573.8,347.2Z" fill="#2A3360"/><path d="M574.3,351.7Q575.3,356.3 575.6,356.5" fill="none" stroke="#2A3360" stroke-width="0.3"/><path d="M577.4,357.8L575.1,357.3L576.2,355.8Z" fill="#2A3360"/><path d="M579.2,359.1Q572.8,360.8 571.5,362.7" fill="none" stroke="#2A3360" stroke-width="0.3"/><path d="M570.3,364.6L570.8,362.2L572.3,363.2Z" fill="#2A3360"/><path d="M579.9,306.2Q569.5,332.5 577.7,355.0" fill="none" stroke="#2A3360" stroke-width="0.3"/><path d="M578.4,357.0L576.8,355.3L578.5,354.7Z" fill="#2A3360"/><path d="M536.5,318.4Q527.3,318.3 523.7,321.5" fill="none" stroke="#2A3360" stroke-width="0.3"/><path d="M522.1,322.9L523.1,320.8L524.3,322.2Z" fill="#2A3360"/><path d="M547.0,323.7Q533.6,319.0 524.5,322.7" fill="none" stroke="#2A3360" stroke-width="0.3"/><path d="M522.4,323.6L524.1,321.9L524.8,323.6Z" fill="#2A3360"/><path d="M536.8,334.9Q539.8,326.6 538.1,322.5" fill="none" stroke="#2A3360" stroke-width="0.3"/><path d="M537.3,320.4L539.0,322.1L537.3,322.8Z" fill="#2A3360"/><path d="M520.4,324.4Q519.9,333.4 522.8,337.1" fill="none" stroke="#2A3360" stroke-width="0.3"/><path d="M524.2,338.8L522.1,337.6L523.6,336.5Z" fill="#2A3360"/><path d="M520.4,324.4Q516.2,334.6 521.9,338.2" fill="none" stroke="#2A3360" stroke-width="0.3"/><path d="M523.7,339.3L521.4,338.9L522.3,337.4Z" fill="#2A3360"/><path d="M525.6,340.5Q526.1,331.5 523.2,327.8" fill="none" stroke="#2A3360" stroke-width="0.3"/><path d="M521.8,326.1L523.9,327.3L522.4,328.4Z" fill="#2A3360"/><path d="M536.8,334.9Q530.1,335.6 528.6,337.3" fill="none" stroke="#2A3360" stroke-width="0.3"/><path d="M527.1,338.9L527.9,336.7L529.2,337.9Z" fill="#2A3360"/><path d="M525.6,340.5Q519.0,342.0 517.7,343.9" fill="none" stroke="#2A3360" stroke-width="0.3"/><path d="M516.4,345.7L516.9,343.4L518.4,344.4Z" fill="#2A3360"/><path d="M515.1,347.5Q510.8,350.5 510.6,351.3" fill="none" stroke="#2A3360" stroke-width="0.3"/><path d="M510.0,353.5L509.7,351.1L511.4,351.5Z" fill="#2A3360"/><path d="M525.6,340.5Q514.7,345.0 511.4,351.6" fill="none" stroke="#2A3360" stroke-width="0.3"/><path d="M510.5,353.6L510.6,351.3L512.2,352.0Z" fill="#2A3360"/><path d="M509.5,355.6Q524.6,362.7 536.5,359.2" fill="none" stroke="#2A3360" stroke-width="0.3"/><path d="M538.6,358.6L536.7,360.1L536.2,358.4Z" fill="#2A3360"/><path d="M525.6,340.5Q516.8,349.6 516.4,357.8" fill="none" stroke="#2A3360" stroke-width="0.3"/><path d="M516.3,360.0L515.5,357.8L517.3,357.8Z" fill="#2A3360"/><path d="M516.2,362.2Q529.2,364.8 536.9,360.2" fill="none" stroke="#2A3360" stroke-width="0.3"/><path d="M538.8,359.1L537.4,361.0L536.5,359.5Z" fill="#2A3360"/><path d="M515.1,347.5Q525.9,357.6 536.3,357.9" fill="none" stroke="#2A3360" stroke-width="0.3"/><path d="M538.5,357.9L536.3,358.8L536.3,357.0Z" fill="#2A3360"/><path d="M525.6,340.5Q531.3,348.1 536.4,349.1" fill="none" stroke="#2A3360" stroke-width="0.3"/><path d="M538.5,349.6L536.2,350.0L536.6,348.3Z" fill="#2A3360"/><path d="M555.8,336.3Q545.6,340.3 542.7,346.1" fill="none" stroke="#2A3360" stroke-width="0.3"/><path d="M541.7,348.0L541.9,345.7L543.5,346.5Z" fill="#2A3360"/><path d="M540.7,350.0Q539.2,354.0 539.1,353.9" fill="none" stroke="#2A3360" stroke-width="0.3"/><path d="M539.9,355.9L538.3,354.2L540.0,353.6Z" fill="#2A3360"/><path d="M536.8,334.9Q535.9,343.2 538.2,346.4" fill="none" stroke="#2A3360" stroke-width="0.3"/><path d="M539.4,348.2L537.4,346.9L538.9,345.9Z" fill="#2A3360"/><path d="M540.7,358.0Q527.8,365.1 524.3,374.9" fill="none" stroke="#2A3360" stroke-width="0.3"/><path d="M523.5,376.9L523.4,374.6L525.1,375.2Z" fill="#2A3360"/><path d="M540.7,358.0Q536.9,369.2 539.7,376.0" fill="none" stroke="#2A3360" stroke-width="0.3"/><path d="M540.6,378.1L538.9,376.4L540.5,375.7Z" fill="#2A3360"/><path d="M540.7,358.0Q546.9,373.2 557.7,378.5" fill="none" stroke="#2A3360" stroke-width="0.3"/><path d="M559.7,379.4L557.4,379.3L558.1,377.7Z" fill="#2A3360"/><path d="M569.1,366.4Q556.5,356.8 545.1,357.7" fill="none" stroke="#2A3360" stroke-width="0.3"/><path d="M542.9,357.8L545.0,356.8L545.2,358.6Z" fill="#2A3360"/><path d="M555.8,336.3Q556.9,341.9 557.9,342.7" fill="none" stroke="#2A3360" stroke-width="0.3"/><path d="M559.7,344.1L557.4,343.4L558.5,342.0Z" fill="#2A3360"/><path d="M561.4,345.4Q554.9,363.0 560.1,376.3" fill="none" stroke="#2A3360" stroke-width="0.3"/><path d="M560.9,378.4L559.3,376.6L560.9,376.0Z" fill="#2A3360"/><path d="M555.8,336.3Q550.4,359.5 559.6,376.5" fill="none" stroke="#2A3360" stroke-width="0.3"/><path d="M560.7,378.5L558.8,377.0L560.4,376.1Z" fill="#2A3360"/><path d="M555.8,336.3Q540.2,360.8 558.4,377.4" fill="none" stroke="#2A3360" stroke-width="0.3"/><path d="M560.1,378.9L557.8,378.1L559.1,376.8Z" fill="#2A3360"/><path d="M541.4,380.1Q551.5,384.1 557.6,381.9" fill="none" stroke="#2A3360" stroke-width="0.3"/><path d="M559.6,381.2L557.9,382.7L557.3,381.1Z" fill="#2A3360"/><path d="M541.4,380.1Q551.4,388.8 558.3,383.2" fill="none" stroke="#2A3360" stroke-width="0.3"/><path d="M560.0,381.8L558.9,383.9L557.7,382.5Z" fill="#2A3360"/><path d="M548.4,376.6Q544.2,377.0 544.4,376.9" fill="none" stroke="#2A3360" stroke-width="0.3"/><path d="M542.9,378.5L543.7,376.3L545.0,377.5Z" fill="#2A3360"/><path d="M522.8,379.0Q531.9,383.1 537.2,381.4" fill="none" stroke="#2A3360" stroke-width="0.3"/><path d="M539.3,380.8L537.5,382.3L536.9,380.6Z" fill="#2A3360"/><path d="M541.4,380.1Q530.8,389.5 529.6,399.2" fill="none" stroke="#2A3360" stroke-width="0.3"/><path d="M529.4,401.4L528.7,399.1L530.5,399.3Z" fill="#2A3360"/><path d="M529.1,403.6Q513.9,405.2 506.6,413.2" fill="none" stroke="#2A3360" stroke-width="0.3"/><path d="M505.1,414.9L505.9,412.6L507.2,413.9Z" fill="#2A3360"/><path d="M541.4,380.1Q533.7,395.0 536.8,407.0" fill="none" stroke="#2A3360" stroke-width="0.3"/><path d="M537.4,409.2L535.9,407.3L537.7,406.8Z" fill="#2A3360"/><path d="M537.9,411.3Q525.2,410.3 518.6,415.3" fill="none" stroke="#2A3360" stroke-width="0.3"/><path d="M516.9,416.6L518.1,414.5L519.2,416.0Z" fill="#2A3360"/><path d="M476.6,425.6Q487.4,416.5 488.9,406.9" fill="none" stroke="#111" stroke-width="0.3"/><path d="M489.2,404.7L489.7,407.0L488.0,406.7Z" fill="#111"/><path d="M489.5,402.5Q493.9,412.2 499.6,414.7" fill="none" stroke="#2A3360" stroke-width="0.3"/><path d="M501.6,415.6L499.2,415.5L499.9,413.9Z" fill="#2A3360"/><path d="M503.6,416.5Q495.9,434.1 500.4,448.1" fill="none" stroke="#2A3360" stroke-width="0.3"/><path d="M501.1,450.2L499.6,448.4L501.3,447.8Z" fill="#2A3360"/><path d="M501.8,452.3Q512.9,456.9 520.0,454.4" fill="none" stroke="#2A3360" stroke-width="0.3"/><path d="M522.1,453.7L520.3,455.3L519.7,453.6Z" fill="#2A3360"/><path d="M524.2,453.0Q533.8,461.0 541.9,460.8" fill="none" stroke="#2A3360" stroke-width="0.3"/><path d="M544.1,460.8L541.9,461.7L541.9,459.9Z" fill="#2A3360"/><path d="M546.3,460.7Q557.5,453.3 559.9,444.6" fill="none" stroke="#2A3360" stroke-width="0.3"/><path d="M560.4,442.5L560.7,444.9L559.0,444.4Z" fill="#2A3360"/><path d="M561.0,440.4Q566.8,427.9 564.1,419.0" fill="none" stroke="#2A3360" stroke-width="0.3"/><path d="M563.4,416.9L564.9,418.8L563.2,419.3Z" fill="#2A3360"/><path d="M562.8,414.8Q569.3,407.7 569.4,402.4" fill="none" stroke="#2A3360" stroke-width="0.3"/><path d="M569.4,400.2L570.3,402.4L568.5,402.4Z" fill="#2A3360"/><path d="M569.4,398.0Q568.9,387.7 564.8,383.5" fill="none" stroke="#2A3360" stroke-width="0.3"/><path d="M563.2,382.0L565.4,382.9L564.1,384.2Z" fill="#2A3360"/><path d="M540.7,358.0Q526.2,378.6 528.6,399.2" fill="none" stroke="#2A3360" stroke-width="0.3"/><path d="M528.8,401.4L527.7,399.3L529.5,399.1Z" fill="#2A3360"/><path d="M547.0,323.7Q539.8,327.4 538.4,330.8" fill="none" stroke="#2A3360" stroke-width="0.3"/><path d="M537.6,332.9L537.6,330.5L539.3,331.1Z" fill="#2A3360"/><path d="M569.1,366.4Q568.2,348.8 558.9,339.4" fill="none" stroke="#2A3360" stroke-width="0.3"/><path d="M557.3,337.9L559.5,338.8L558.3,340.1Z" fill="#2A3360"/><circle cx="530.9" cy="279.2" r="2.2" fill="#8E1E4C" stroke="#400" stroke-width="0.15"/><circle cx="559.6" cy="280.9" r="2.2" fill="#8E1E4C" stroke="#400" stroke-width="0.15"/><circle cx="568.4" cy="292.5" r="2.2" fill="#8E1E4C" stroke="#400" stroke-width="0.15"/><circle cx="579.9" cy="306.2" r="2.2" fill="#8E1E4C" stroke="#400" stroke-width="0.15"/><circle cx="521.4" cy="298.8" r="2.2" fill="#8E1E4C" stroke="#400" stroke-width="0.15"/><circle cx="498.6" cy="307.6" r="2.2" fill="#8E1E4C" stroke="#400" stroke-width="0.15"/><circle cx="510.9" cy="307.9" r="2.2" fill="#8E1E4C" stroke="#400" stroke-width="0.15"/><circle cx="566.6" cy="316.0" r="2.2" fill="#8E1E4C" stroke="#400" stroke-width="0.15"/><circle cx="536.5" cy="318.4" r="2.2" fill="#8E1E4C" stroke="#400" stroke-width="0.15"/><circle cx="547.0" cy="323.7" r="2.2" fill="#8E1E4C" stroke="#400" stroke-width="0.15"/><circle cx="520.4" cy="324.4" r="2.2" fill="#8E1E4C" stroke="#400" stroke-width="0.15"/><circle cx="575.4" cy="331.7" r="2.2" fill="#8E1E4C" stroke="#400" stroke-width="0.15"/><circle cx="536.8" cy="334.9" r="2.2" fill="#8E1E4C" stroke="#400" stroke-width="0.15"/><circle cx="555.8" cy="336.3" r="2.2" fill="#8E1E4C" stroke="#400" stroke-width="0.15"/><circle cx="476.2" cy="337.0" r="2.2" fill="#8E1E4C" stroke="#400" stroke-width="0.15"/><circle cx="525.6" cy="340.5" r="2.2" fill="#8E1E4C" stroke="#400" stroke-width="0.15"/><circle cx="561.4" cy="345.4" r="2.2" fill="#8E1E4C" stroke="#400" stroke-width="0.15"/><circle cx="515.1" cy="347.5" r="2.2" fill="#8E1E4C" stroke="#400" stroke-width="0.15"/><circle cx="540.7" cy="350.0" r="2.2" fill="#8E1E4C" stroke="#400" stroke-width="0.15"/><circle cx="574.3" cy="351.7" r="2.2" fill="#8E1E4C" stroke="#400" stroke-width="0.15"/><circle cx="509.5" cy="355.6" r="2.2" fill="#8E1E4C" stroke="#400" stroke-width="0.15"/><circle cx="540.7" cy="358.0" r="2.2" fill="#8E1E4C" stroke="#400" stroke-width="0.15"/><circle cx="579.2" cy="359.1" r="2.2" fill="#8E1E4C" stroke="#400" stroke-width="0.15"/><circle cx="516.2" cy="362.2" r="2.2" fill="#8E1E4C" stroke="#400" stroke-width="0.15"/><circle cx="569.1" cy="366.4" r="2.2" fill="#8E1E4C" stroke="#400" stroke-width="0.15"/><circle cx="488.5" cy="375.9" r="2.2" fill="#8E1E4C" stroke="#400" stroke-width="0.15"/><circle cx="522.8" cy="379.0" r="2.2" fill="#8E1E4C" stroke="#400" stroke-width="0.15"/><circle cx="541.4" cy="380.1" r="2.2" fill="#8E1E4C" stroke="#400" stroke-width="0.15"/><circle cx="548.4" cy="376.6" r="2.2" fill="#8E1E4C" stroke="#400" stroke-width="0.15"/><circle cx="561.7" cy="380.4" r="2.2" fill="#8E1E4C" stroke="#400" stroke-width="0.15"/><circle cx="569.4" cy="398.0" r="2.2" fill="#8E1E4C" stroke="#400" stroke-width="0.15"/><circle cx="529.1" cy="403.6" r="2.2" fill="#8E1E4C" stroke="#400" stroke-width="0.15"/><circle cx="489.5" cy="402.5" r="2.2" fill="#C8000C" stroke="#400" stroke-width="0.15"/><circle cx="537.9" cy="411.3" r="2.2" fill="#8E1E4C" stroke="#400" stroke-width="0.15"/><circle cx="562.8" cy="414.8" r="2.2" fill="#8E1E4C" stroke="#400" stroke-width="0.15"/><circle cx="503.6" cy="416.5" r="2.2" fill="#8E1E4C" stroke="#400" stroke-width="0.15"/><circle cx="515.1" cy="417.9" r="2.2" fill="#8E1E4C" stroke="#400" stroke-width="0.15"/><circle cx="476.6" cy="425.6" r="2.2" fill="#C8000C" stroke="#400" stroke-width="0.15"/><circle cx="561.0" cy="440.4" r="2.2" fill="#8E1E4C" stroke="#400" stroke-width="0.15"/><circle cx="501.8" cy="452.3" r="2.2" fill="#8E1E4C" stroke="#400" stroke-width="0.15"/><circle cx="524.2" cy="453.0" r="2.2" fill="#8E1E4C" stroke="#400" stroke-width="0.15"/><circle cx="546.3" cy="460.7" r="2.2" fill="#8E1E4C" stroke="#400" stroke-width="0.15"/><text x="533.6" y="285.3" font-size="2.9" fill="#4a5590">e</text><text x="562.3" y="287.0" font-size="2.9" fill="#4a5590">o</text><text x="571.1" y="298.6" font-size="2.9" fill="#4a5590">deus</text><text x="582.6" y="312.3" font-size="2.9" fill="#4a5590">ela</text><text x="524.1" y="304.9" font-size="2.9" fill="#4a5590">guri</text><text x="501.3" y="313.7" font-size="2.9" fill="#4a5590">cachorro</text><text x="513.6" y="314.0" font-size="2.9" fill="#4a5590">casinha</text><text x="569.3" y="322.1" font-size="2.9" fill="#4a5590">com</text><text x="539.2" y="324.5" font-size="2.9" fill="#4a5590">a</text><text x="549.7" y="329.8" font-size="2.9" fill="#4a5590">mae</text><text x="523.1" y="330.5" font-size="2.9" fill="#4a5590">ele</text><text x="578.1" y="337.8" font-size="2.9" fill="#4a5590">dele</text><text x="539.5" y="341.0" font-size="2.9" fill="#4a5590">que</text><text x="558.5" y="342.4" font-size="2.9" fill="#4a5590">tá</text><text x="478.9" y="343.1" font-size="2.9" fill="#4a5590">boto</text><text x="528.3" y="346.6" font-size="2.9" fill="#4a5590">do</text><text x="564.1" y="351.5" font-size="2.9" fill="#4a5590">dentro</text><text x="517.8" y="353.6" font-size="2.9" fill="#4a5590">pra</text><text x="543.4" y="356.1" font-size="2.9" fill="#4a5590">uma</text><text x="577.0" y="357.8" font-size="2.9" fill="#4a5590">ficar</text><text x="512.2" y="361.7" font-size="2.9" fill="#4a5590">de</text><text x="543.4" y="364.1" font-size="2.9" fill="#4a5590">vai</text><text x="581.9" y="365.2" font-size="2.9" fill="#4a5590">roupeiro</text><text x="518.9" y="368.3" font-size="2.9" fill="#4a5590">no</text><text x="571.8" y="372.5" font-size="2.9" fill="#4a5590">leva</text><text x="491.2" y="382.0" font-size="2.9" fill="#4a5590">pedindo</text><text x="525.5" y="385.1" font-size="2.9" fill="#4a5590">casa</text><text x="544.1" y="386.2" font-size="2.9" fill="#4a5590">agora</text><text x="551.1" y="382.7" font-size="2.9" fill="#4a5590">o</text><text x="564.4" y="386.5" font-size="2.9" fill="#4a5590">era</text><text x="572.1" y="404.1" font-size="2.9" fill="#4a5590">meu</text><text x="531.8" y="409.7" font-size="2.9" fill="#4a5590">chamo</text><text x="492.2" y="408.6" font-size="2.9" fill="#4a5590">gurizinho</text><text x="540.6" y="417.4" font-size="2.9" fill="#4a5590">aí</text><text x="565.5" y="420.9" font-size="2.9" fill="#4a5590">tirando</text><text x="506.3" y="422.6" font-size="2.9" fill="#4a5590">isso</text><text x="517.8" y="424.0" font-size="2.9" fill="#4a5590">um</text><text x="479.3" y="431.7" font-size="2.9" fill="#4a5590">vê</text><text x="563.7" y="446.5" font-size="2.9" fill="#4a5590">para</text><text x="504.5" y="458.4" font-size="2.9" fill="#4a5590">então</text><text x="526.9" y="459.1" font-size="2.9" fill="#4a5590">menino</text><text x="549.0" y="466.8" font-size="2.9" fill="#4a5590">em</text></g>
<text x="4.4" y="485.9" font-size="16.8" fill="#000" >e</text>
<rect x="105.6" y="499.5" width="214.4" height="214.5" fill="#fff"/>
<path d="M117.6,499.5V714.0M157.8,499.5V714.0M197.9,499.5V714.0M238.0,499.5V714.0M278.2,499.5V714.0M318.4,499.5V714.0M105.6,507.5H320.0M105.6,546.2H320.0M105.6,585.0H320.0M105.6,623.8H320.0M105.6,662.5H320.0M105.6,701.2H320.0" stroke="#E8E8E8" stroke-width="0.5" fill="none"/>
<path d="M137.7,499.5V714.0M177.8,499.5V714.0M218.0,499.5V714.0M258.1,499.5V714.0M298.3,499.5V714.0M105.6,526.9H320.0M105.6,565.6H320.0M105.6,604.4H320.0M105.6,643.1H320.0M105.6,681.9H320.0" stroke="#F0F0F0" stroke-width="0.3" fill="none"/>
<g fill="#000"><circle cx="174.9" cy="542.8" r="1.35"/><circle cx="176.9" cy="554.4" r="1.35"/><circle cx="193.5" cy="547.5" r="1.35"/><circle cx="197" cy="563.2" r="1.35"/><circle cx="185.1" cy="569" r="1.35"/><circle cx="190.1" cy="569.7" r="1.35"/><circle cx="143.3" cy="572.1" r="1.35"/><circle cx="149.2" cy="571.5" r="1.35"/><circle cx="207.4" cy="572.1" r="1.35"/><circle cx="213" cy="577.4" r="1.35"/><circle cx="141.6" cy="580.3" r="1.35"/><circle cx="183.4" cy="579.8" r="1.35"/><circle cx="186.3" cy="579.8" r="1.35"/><circle cx="210.3" cy="580.3" r="1.35"/><circle cx="205.9" cy="587.3" r="1.35"/><circle cx="190.6" cy="590.4" r="1.35"/><circle cx="213.6" cy="590.4" r="1.35"/><circle cx="142.8" cy="595.4" r="1.35"/><circle cx="187.1" cy="595.4" r="1.35"/><circle cx="205.1" cy="594.4" r="1.35"/><circle cx="199" cy="598.1" r="1.35"/><circle cx="197" cy="601.8" r="1.35"/><circle cx="118.1" cy="604.6" r="1.35"/><circle cx="141.6" cy="609.7" r="1.35"/><circle cx="160.4" cy="609.2" r="1.35"/><circle cx="168" cy="609.2" r="1.35"/><circle cx="212.1" cy="608.7" r="1.35"/><circle cx="271.9" cy="509" r="1.35"/><circle cx="309.6" cy="535.3" r="1.35"/><circle cx="232.7" cy="534.4" r="1.35"/><circle cx="250.2" cy="543.2" r="1.35"/><circle cx="258.6" cy="544.9" r="1.35"/><circle cx="273.3" cy="546.3" r="1.35"/><circle cx="263" cy="551.4" r="1.35"/><circle cx="246.7" cy="555.6" r="1.35"/><circle cx="237.8" cy="557.4" r="1.35"/><circle cx="287.5" cy="555.1" r="1.35"/><circle cx="283" cy="557.4" r="1.35"/><circle cx="263" cy="561" r="1.35"/><circle cx="246.3" cy="562.1" r="1.35"/><circle cx="230.6" cy="565.6" r="1.35"/><circle cx="241.3" cy="565.3" r="1.35"/><circle cx="238.6" cy="567" r="1.35"/><circle cx="235.1" cy="568.1" r="1.35"/><circle cx="222.5" cy="568.6" r="1.35"/><circle cx="224.3" cy="570.3" r="1.35"/><circle cx="243.4" cy="571.2" r="1.35"/><circle cx="268.9" cy="571.2" r="1.35"/><circle cx="261.8" cy="572.1" r="1.35"/><circle cx="230.6" cy="576.5" r="1.35"/><circle cx="231.3" cy="577.7" r="1.35"/><circle cx="222.5" cy="581.2" r="1.35"/><circle cx="230.9" cy="580.8" r="1.35"/><circle cx="240.7" cy="580.8" r="1.35"/><circle cx="289.1" cy="581.7" r="1.35"/><circle cx="246.3" cy="584.3" r="1.35"/><circle cx="270.9" cy="583" r="1.35"/><circle cx="269.8" cy="586.1" r="1.35"/><circle cx="229.5" cy="586.8" r="1.35"/><circle cx="249.7" cy="587.9" r="1.35"/><circle cx="268.4" cy="590" r="1.35"/><circle cx="216.2" cy="594.3" r="1.35"/><circle cx="219" cy="594.3" r="1.35"/><circle cx="241.4" cy="594.9" r="1.35"/><circle cx="249.3" cy="596.3" r="1.35"/><circle cx="238.3" cy="598.5" r="1.35"/><circle cx="277.4" cy="598.5" r="1.35"/><circle cx="264.6" cy="600.5" r="1.35"/><circle cx="222.5" cy="602.2" r="1.35"/><circle cx="224.3" cy="602" r="1.35"/><circle cx="229.5" cy="602.7" r="1.35"/><circle cx="269.8" cy="604.5" r="1.35"/><circle cx="230.9" cy="606.4" r="1.35"/><circle cx="215.2" cy="608.5" r="1.35"/><circle cx="260.4" cy="611.5" r="1.35"/><circle cx="221.6" cy="612.6" r="1.35"/><circle cx="229" cy="613.1" r="1.35"/><circle cx="213.8" cy="613.6" r="1.35"/><circle cx="157.8" cy="612.3" r="1.35"/><circle cx="173.6" cy="612.3" r="1.35"/><circle cx="197.2" cy="615.4" r="1.35"/><circle cx="184.1" cy="617" r="1.35"/><circle cx="182.3" cy="621.2" r="1.35"/><circle cx="184.1" cy="621.2" r="1.35"/><circle cx="202.7" cy="620.3" r="1.35"/><circle cx="165" cy="630.3" r="1.35"/><circle cx="209.3" cy="632.8" r="1.35"/><circle cx="196.2" cy="635.4" r="1.35"/><circle cx="174.1" cy="639.9" r="1.35"/><circle cx="195.7" cy="641" r="1.35"/><circle cx="202.7" cy="646.4" r="1.35"/><circle cx="212.5" cy="647" r="1.35"/><circle cx="139.8" cy="656.1" r="1.35"/><circle cx="178.5" cy="656.1" r="1.35"/><circle cx="213.2" cy="657.8" r="1.35"/><circle cx="215.3" cy="663.2" r="1.35"/><circle cx="188.1" cy="667.1" r="1.35"/><circle cx="165.5" cy="670.8" r="1.35"/><circle cx="165" cy="675.2" r="1.35"/><circle cx="115.1" cy="673.9" r="1.35"/><circle cx="194.1" cy="686.7" r="1.35"/><circle cx="142.9" cy="703.9" r="1.35"/><circle cx="162.2" cy="703.4" r="1.35"/><circle cx="163.4" cy="704.6" r="1.35"/><circle cx="254.2" cy="622.1" r="1.35"/><circle cx="258.8" cy="624.4" r="1.35"/><circle cx="238.6" cy="624.7" r="1.35"/><circle cx="243.9" cy="635" r="1.35"/><circle cx="236.5" cy="638.4" r="1.35"/><circle cx="239.7" cy="638.4" r="1.35"/><circle cx="289.1" cy="637" r="1.35"/><circle cx="261.8" cy="641.5" r="1.35"/><circle cx="235.7" cy="650.5" r="1.35"/><circle cx="222.9" cy="654.8" r="1.35"/></g>
<path d="M115.1,640.2L309.6,564.3" stroke="#3366FF" stroke-width="0.9" fill="none"/>
<rect x="105.6" y="499.5" width="214.4" height="214.5" fill="none" stroke="#6a6a6a" stroke-width="1.0"/>
<path d="M117.6,714.0v2.2M105.6,507.5h-2.2M157.8,714.0v2.2M105.6,546.2h-2.2M197.9,714.0v2.2M105.6,585.0h-2.2M238.0,714.0v2.2M105.6,623.8h-2.2M278.2,714.0v2.2M105.6,662.5h-2.2M318.4,714.0v2.2M105.6,701.2h-2.2" stroke="#333" stroke-width="0.4" fill="none"/>
<text x="117.6" y="722.6" font-size="5.4" fill="#4D4D4D" text-anchor="middle" >-7</text>
<text x="101.8" y="509.3" font-size="5.4" fill="#4D4D4D" text-anchor="end" >16</text>
<text x="157.8" y="722.6" font-size="5.4" fill="#4D4D4D" text-anchor="middle" >-6</text>
<text x="101.8" y="548.0" font-size="5.4" fill="#4D4D4D" text-anchor="end" >15</text>
<text x="197.9" y="722.6" font-size="5.4" fill="#4D4D4D" text-anchor="middle" >-5</text>
<text x="101.8" y="586.8" font-size="5.4" fill="#4D4D4D" text-anchor="end" >14</text>
<text x="238.0" y="722.6" font-size="5.4" fill="#4D4D4D" text-anchor="middle" >-4</text>
<text x="101.8" y="625.5" font-size="5.4" fill="#4D4D4D" text-anchor="end" >13</text>
<text x="278.2" y="722.6" font-size="5.4" fill="#4D4D4D" text-anchor="middle" >-3</text>
<text x="101.8" y="664.3" font-size="5.4" fill="#4D4D4D" text-anchor="end" >12</text>
<text x="318.4" y="722.6" font-size="5.4" fill="#4D4D4D" text-anchor="middle" >-2</text>
<text x="101.8" y="703.0" font-size="5.4" fill="#4D4D4D" text-anchor="end" >11</text>
<text x="105.6" y="494" font-size="8.5" fill="#000" textLength="82.5" lengthAdjust="spacingAndGlyphs" >R = 0.40, p = 0.0054</text>
<text x="212.2" y="731.6" font-size="6.3" fill="#000" text-anchor="middle" textLength="132" lengthAdjust="spacingAndGlyphs" >Age (-0.57) + Educ (0.20) + RWH (0.58)</text>
<text transform="translate(92,608.6) rotate(-90)" font-size="6.3" text-anchor="middle" textLength="120" lengthAdjust="spacingAndGlyphs">RE (0.01) + LCC (0.98) + LSC (0.04)</text>
<text x="331.2" y="484.9" font-size="16.8" fill="#000" >f</text>
<rect x="470.5" y="497.5" width="214.0" height="214.0" fill="#fff" stroke="#2b2b2b" stroke-width="0.7"/>
<circle cx="577.5" cy="604.5" r="99.2" fill="none" stroke="#2b2b2b" stroke-width="0.7"/>
<circle cx="577.5" cy="604.5" r="49.6" fill="none" stroke="#2b2b2b" stroke-width="0.7"/>
<path d="M470.5,604.5H684.5M577.5,497.5V711.5" stroke="#2b2b2b" stroke-width="0.7" fill="none"/>
<path d="M478.3,711.5v4.8M470.5,505.3h-4.8M527.9,711.5v4.8M470.5,554.9h-4.8M577.5,711.5v4.8M470.5,604.5h-4.8M627.1,711.5v4.8M470.5,654.1h-4.8M676.7,711.5v4.8M470.5,703.7h-4.8" stroke="#2b2b2b" stroke-width="0.7" fill="none"/>
<text x="478.3" y="726.7" font-size="6.4" fill="#111" text-anchor="middle" >-1.0</text>
<text transform="translate(460.0,703.7) rotate(-90)" font-size="6.4" text-anchor="middle" fill="#111">-1.0</text>
<text x="527.9" y="726.7" font-size="6.4" fill="#111" text-anchor="middle" >-0.5</text>
<text transform="translate(460.0,654.1) rotate(-90)" font-size="6.4" text-anchor="middle" fill="#111">-0.5</text>
<text x="577.5" y="726.7" font-size="6.4" fill="#111" text-anchor="middle" >0.0</text>
<text transform="translate(460.0,604.5) rotate(-90)" font-size="6.4" text-anchor="middle" fill="#111">0.0</text>
<text x="627.1" y="726.7" font-size="6.4" fill="#111" text-anchor="middle" >0.5</text>
<text transform="translate(460.0,554.9) rotate(-90)" font-size="6.4" text-anchor="middle" fill="#111">0.5</text>
<text x="676.7" y="726.7" font-size="6.4" fill="#111" text-anchor="middle" >1.0</text>
<text transform="translate(460.0,505.3) rotate(-90)" font-size="6.4" text-anchor="middle" fill="#111">1.0</text>
<text x="577.1" y="743.3" font-size="6.8" fill="#000" text-anchor="middle" textLength="38.2" lengthAdjust="spacingAndGlyphs" >Dimension&#160;1</text>
<text transform="translate(444.3,604.3) rotate(-90)" font-size="6.8" text-anchor="middle" textLength="38.2" lengthAdjust="spacingAndGlyphs">Dimension&#160;2</text>
<text x="542.8" y="614.8" font-size="7" fill="#3333CC" font-style="italic" text-anchor="middle" >RE</text>
<text x="601.6" y="604.4" font-size="7" fill="#3333CC" font-style="italic" text-anchor="middle" >LSC</text>
<text x="616.9" y="607.8" font-size="7" fill="#3333CC" font-style="italic" text-anchor="middle" >LCC</text>
<text x="654.9" y="611.8" font-size="6.8" fill="#E81010" font-weight="bold" text-anchor="middle" >RWH</text>
<text x="507.8" y="639.8" font-size="6.8" fill="#E81010" font-weight="bold" text-anchor="middle" >Age</text>
<text x="642.2" y="681.9" font-size="6.8" fill="#E81010" font-weight="bold" text-anchor="middle" >Educ</text>
</svg></body></html>
